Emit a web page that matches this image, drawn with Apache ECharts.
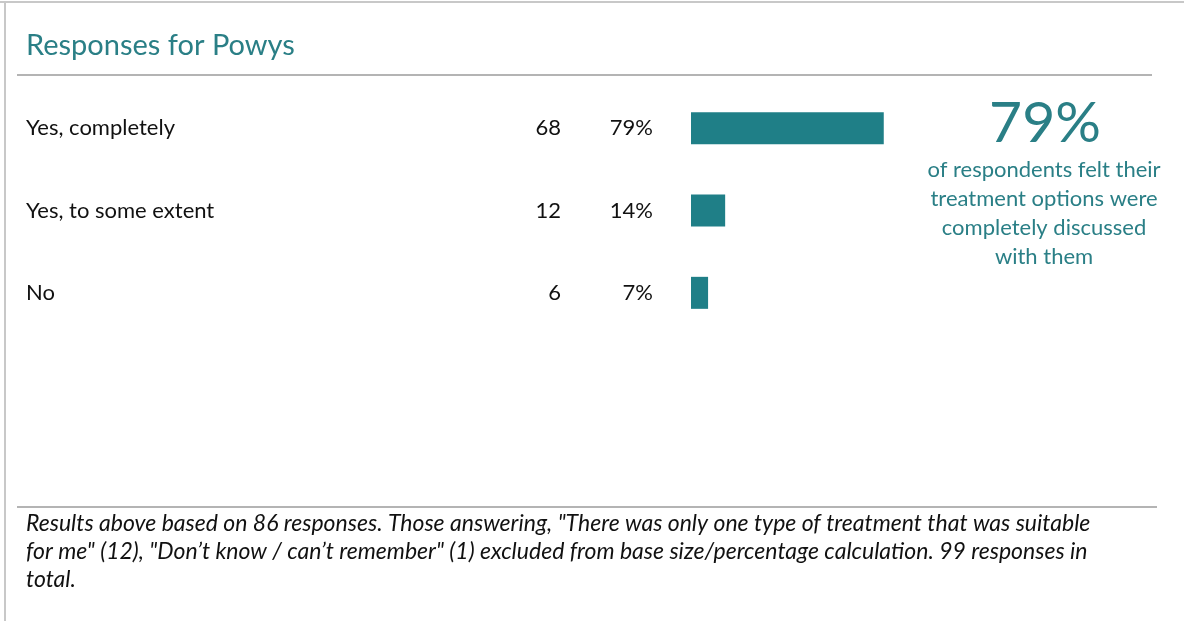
<!DOCTYPE html>
<html><head><meta charset="utf-8">
<script src="https://cdn.jsdelivr.net/npm/echarts@6/dist/echarts.min.js"></script>
<style>html,body{margin:0;padding:0;background:#fff}#c{width:1184px;height:621px}</style>
</head><body><div id="c"></div>
<script>
const categories = ["Yes, completely", "Yes, to some extent", "No"];
const counts = [68, 12, 6];
const percents = [79, 14, 7];
const headline = "79%";
const headlineText = "of respondents felt their\ntreatment options were\ncompletely discussed\nwith them";
const titleText = "Responses for Powys";
const footnote = 'Results above based on 86 responses. Those answering, "There was only one type of treatment that was suitable\nfor me" (12), "Don\u2019t know / can\u2019t remember" (1) excluded from base size/percentage calculation. 99 responses in\ntotal.';

const TEAL = "#1f7f87";
const FONT = "Lato";
const chart = echarts.init(document.getElementById('c'), null, {renderer: 'canvas'});
chart.setOption({
  backgroundColor: '#fff',
  animation: false,
  title: [
    {text: titleText, left: 21, top: 26, textStyle: {fontFamily: FONT, fontSize: 29, fontWeight: 'normal', color: '#2a7f86'}},
    {text: headline, left: 1040, textAlign: 'center', top: 90, textStyle: {fontFamily: FONT, fontSize: 57, fontWeight: 'normal', color: '#2a7f86'}},
    {text: headlineText, left: 1039, textAlign: 'center', top: 150, textStyle: {fontFamily: FONT, fontSize: 22, fontWeight: 'normal', color: '#2a7f86', lineHeight: 29}}
  ],
  graphic: [
    {type: 'line', shape: {x1: 0, y1: 2, x2: 1184, y2: 2}, style: {stroke: '#c8c8c8', lineWidth: 2}},
    {type: 'line', shape: {x1: 5, y1: 2, x2: 5, y2: 621}, style: {stroke: '#c8c8c8', lineWidth: 2}},
    {type: 'line', shape: {x1: 17, y1: 75, x2: 1152, y2: 75}, style: {stroke: '#b4b4b4', lineWidth: 2}},
    {type: 'line', shape: {x1: 17, y1: 507, x2: 1157, y2: 507}, style: {stroke: '#b4b4b4', lineWidth: 2}},
    {type: 'text', left: 26, top: 510, style: {text: footnote, fontFamily: FONT, fontStyle: 'italic', fontSize: 23, lineHeight: 28, fill: '#111'}}
  ],
  grid: {left: 691, width: 244, top: 87, height: 247, containLabel: false},
  xAxis: {type: 'value', min: 0, max: 100, show: false},
  yAxis: {
    type: 'category', data: categories, inverse: true,
    axisLine: {show: false}, axisTick: {show: false}, splitLine: {show: false},
    axisLabel: {
      margin: 38,
      formatter: function (v, i) { return '{n|' + v + '}{c|' + counts[i] + '}{p|' + percents[i] + '%}'; },
      rich: {
        n: {width: 480, align: 'left', fontFamily: FONT, fontSize: 22, color: '#111'},
        c: {width: 55, align: 'right', fontFamily: FONT, fontSize: 22, color: '#111'},
        p: {width: 92, align: 'right', fontFamily: FONT, fontSize: 22, color: '#111'}
      }
    }
  },
  series: [{
    type: 'bar', data: percents, barWidth: 32,
    itemStyle: {color: TEAL}
  }]
});
</script></body></html>
